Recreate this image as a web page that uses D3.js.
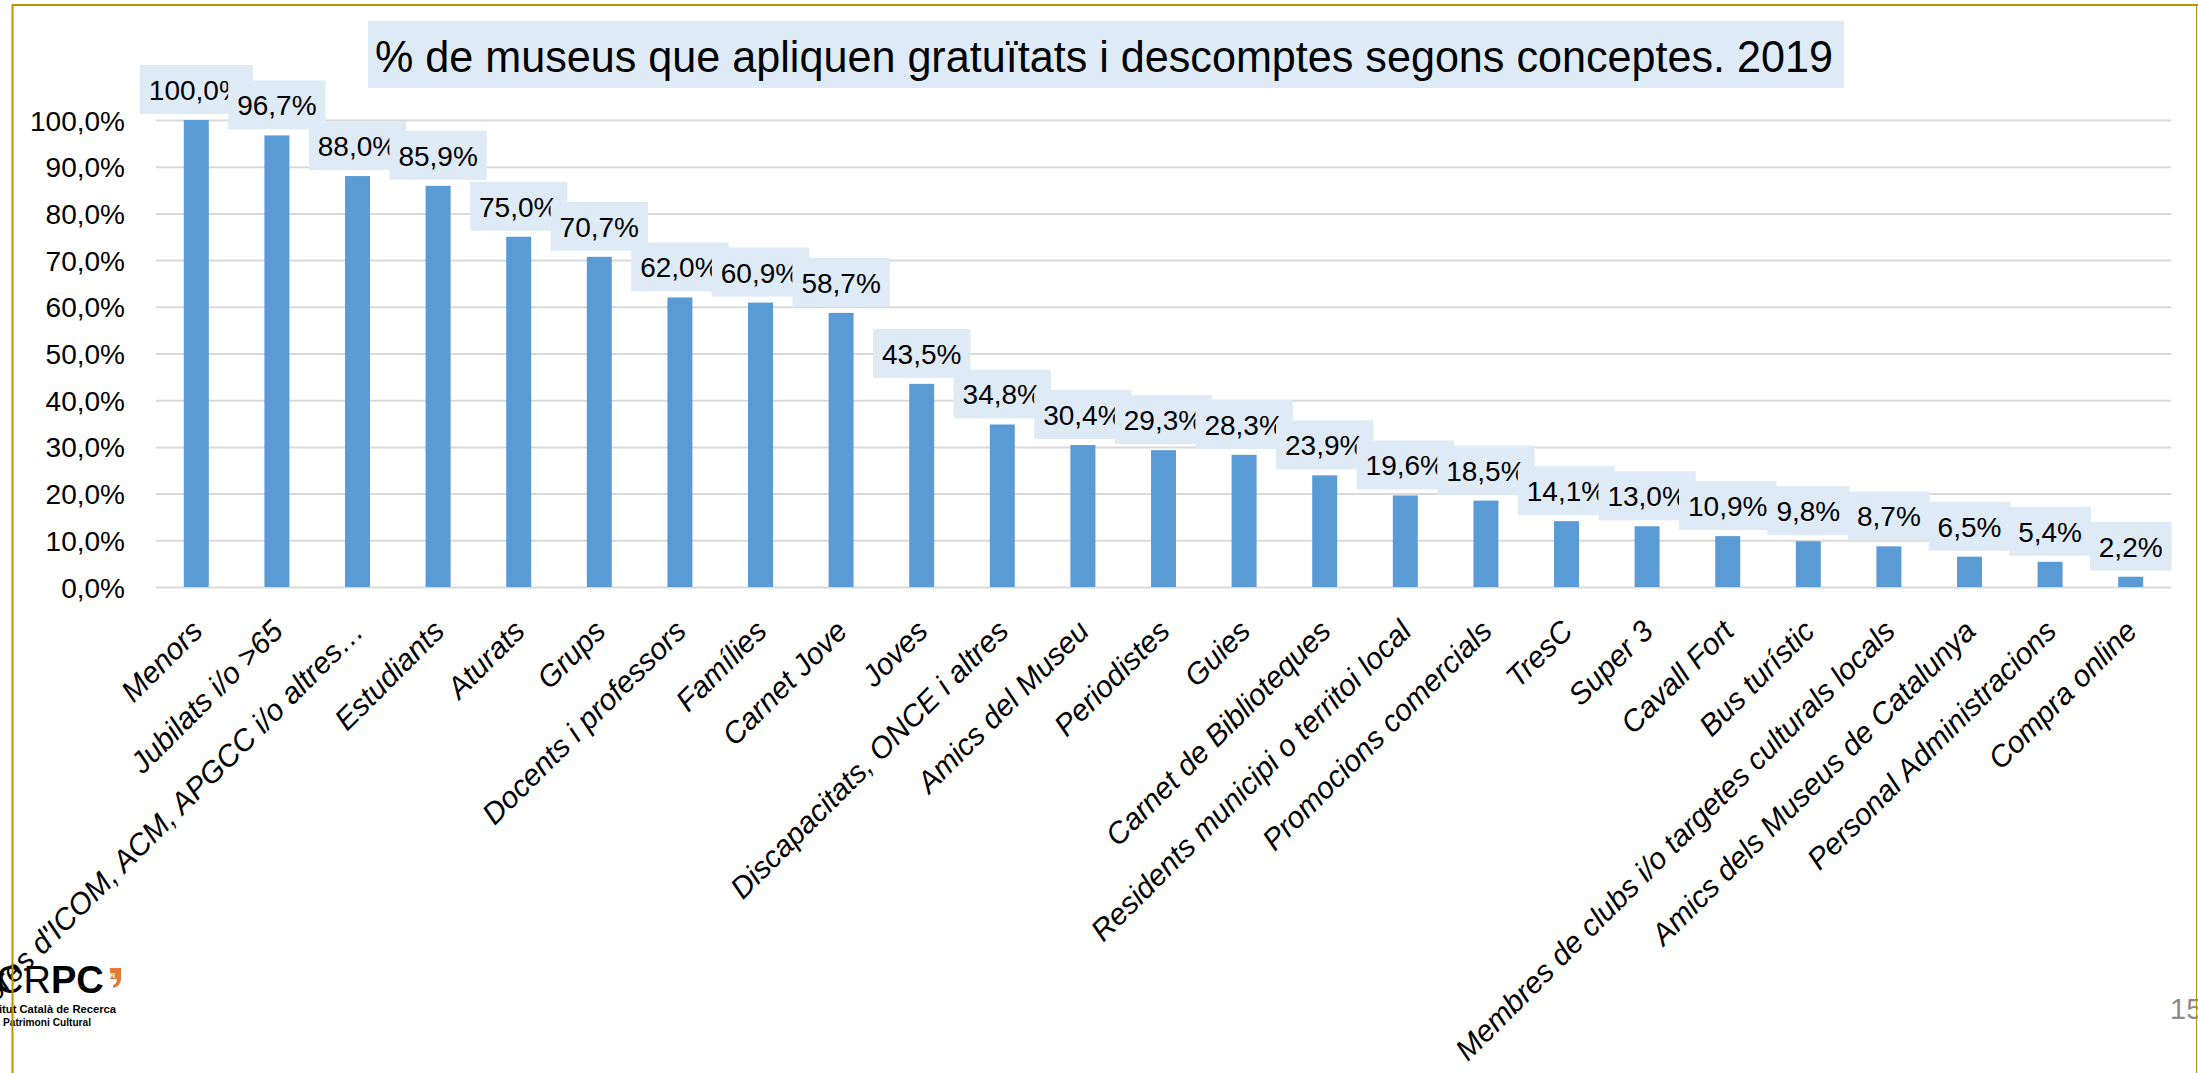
<!DOCTYPE html>
<html>
<head>
<meta charset="utf-8">
<script src="https://cdn.jsdelivr.net/npm/d3@7"></script>
<style>
  body { margin: 0; background: white; }
  svg { display: block; }
</style>
</head>
<body>
<script>
// categories and values (percent)
var categories = ["Menors", "Jubilats i/o >65", "Membres d'ICOM, ACM, APGCC i/o altres…", "Estudiants",
  "Aturats", "Grups", "Docents i professors", "Famílies", "Carnet Jove", "Joves",
  "Discapacitats, ONCE i altres", "Amics del Museu", "Periodistes", "Guies", "Carnet de Biblioteques",
  "Residents municipi o territoi local", "Promocions comercials", "TresC", "Super 3", "Cavall Fort",
  "Bus turístic", "Membres de clubs i/o targetes culturals locals", "Amics dels Museus de Catalunya",
  "Personal Administracions", "Compra online"];
var values = [100.0, 96.7, 88.0, 85.9, 75.0, 70.7, 62.0, 60.9, 58.7, 43.5, 34.8, 30.4, 29.3, 28.3, 23.9,
  19.6, 18.5, 14.1, 13.0, 10.9, 9.8, 8.7, 6.5, 5.4, 2.2];
var yTicks = [0, 10, 20, 30, 40, 50, 60, 70, 80, 90, 100];
var title = "% de museus que apliquen gratuïtats i descomptes segons conceptes. 2019";

var W = 2198, H = 1073;
var font = "'Liberation Sans', Arial, sans-serif";
var gold = "#BF9000", blue = "#5B9BD5", pale = "#DEEBF7", grid = "#D9D9D9";
// plot area (window.top is taken, so no "top" here)
var plotL = 156, plotR = 2171, plotT = 120, plotB = 587;

var pct = function(v) { return v.toFixed(1).replace(".", ",") + "%"; };

var data = categories.map(function(c, i) { return {name: c, value: values[i]}; });

var svg = d3.select("body").append("svg")
    .attr("width", W).attr("height", H)
    .style("font-family", font);

var x = d3.scaleBand().domain(categories).range([plotL, plotR])
    .paddingInner(0.69).paddingOuter(0.345);
var y = d3.scaleLinear().domain([0, 100]).range([plotB, plotT]);

// title box
svg.append("rect")
    .attr("x", 368).attr("y", 21).attr("width", 1476).attr("height", 67)
    .attr("fill", pale);
svg.append("text")
    .attr("x", 375).attr("y", 72)
    .attr("font-size", 45)
    .attr("textLength", 1458).attr("lengthAdjust", "spacingAndGlyphs")
    .attr("fill", "#000")
    .text(title);

// y axis + gridlines
var yAxis = svg.append("g")
    .attr("transform", "translate(" + plotL + ",0)")
    .call(d3.axisLeft(y).tickValues(yTicks).tickFormat(pct)
        .tickSize(-(plotR - plotL)).tickPadding(31));
yAxis.select(".domain").remove();
yAxis.selectAll("line").attr("stroke", grid).attr("stroke-width", 2);
yAxis.selectAll("text")
    .attr("font-size", 28).attr("font-family", font).attr("fill", "#000")
    .attr("dy", "0.36em");

// bars
svg.append("g").selectAll("rect")
    .data(data)
    .enter()
    .append("rect")
    .attr("x", function(d) { return x(d.name); })
    .attr("width", x.bandwidth())
    .attr("y", function(d) { return y(d.value); })
    .attr("height", function(d) { return y(0) - y(d.value); })
    .attr("fill", blue);

// x axis, labels rotated
var xAxis = svg.append("g")
    .attr("transform", "translate(0," + plotB + ")")
    .call(d3.axisBottom(x).tickSize(0));
xAxis.select(".domain").remove();
xAxis.selectAll("text")
    .attr("x", 0).attr("y", 0).attr("dy", 0)
    .attr("transform", "translate(8,46) rotate(-45)")
    .attr("text-anchor", "end")
    .attr("font-size", 30).attr("font-family", font)
    .attr("font-style", "italic").attr("fill", "#000");

// data labels - drawn in order so the next box covers the previous one
var labels = svg.append("g").selectAll("g")
    .data(data)
    .enter()
    .append("g");
labels.each(function(d) {
    var g = d3.select(this);
    var cx = x(d.name) + x.bandwidth() / 2;
    var boxBottom = y(d.value) - 6;
    var box = g.append("rect").attr("fill", pale);
    var t = g.append("text")
        .attr("x", cx).attr("y", boxBottom - 14)
        .attr("text-anchor", "middle")
        .attr("font-size", 28).attr("fill", "#000")
        .text(pct(d.value));
    var w = t.node().getComputedTextLength() + 18;
    box.attr("x", cx - w / 2).attr("y", boxBottom - 49)
        .attr("width", w).attr("height", 49);
});

// logo, cut by the slide edge
var logo = svg.append("g");
logo.append("text")
    .attr("x", -4).attr("y", 993)
    .attr("font-size", 38).attr("fill", "#000")
    .text("CR")
    .append("tspan").attr("font-weight", "bold").text("PC");
logo.append("rect")
    .attr("x", 110).attr("y", 968).attr("width", 11).attr("height", 11)
    .attr("fill", "#E07B39");
logo.append("path")
    .attr("d", "M117,979 L121,979 Q121,986 113,988 L113,985 Q117,984 117,979 Z")
    .attr("fill", "#E07B39");
logo.append("text")
    .attr("x", 112.5).attr("y", 977.5).attr("font-size", 8).attr("font-weight", "bold")
    .attr("fill", "white").attr("text-anchor", "middle").text("R");
logo.append("text")
    .attr("x", -1).attr("y", 1013)
    .attr("font-size", 11).attr("font-weight", "bold")
    .attr("textLength", 117).attr("lengthAdjust", "spacingAndGlyphs")
    .text("itut Català de Recerca");
logo.append("text")
    .attr("x", 3).attr("y", 1026)
    .attr("font-size", 11).attr("font-weight", "bold")
    .attr("textLength", 88).attr("lengthAdjust", "spacingAndGlyphs")
    .text("Patrimoni Cultural");

// page number
svg.append("text")
    .attr("x", 2170).attr("y", 1019)
    .attr("font-size", 29).attr("fill", "#8C8C8C")
    .text("15");

// slide frame
svg.append("line")
    .attr("x1", 12).attr("x2", W).attr("y1", 5).attr("y2", 5)
    .attr("stroke", gold).attr("stroke-width", 2);
svg.append("line")
    .attr("x1", 12.5).attr("x2", 12.5).attr("y1", 4).attr("y2", H)
    .attr("stroke", gold).attr("stroke-width", 2);
svg.append("line")
    .attr("x1", 2196.5).attr("x2", 2196.5).attr("y1", 4).attr("y2", H)
    .attr("stroke", gold).attr("stroke-width", 1);
</script>
</body>
</html>
